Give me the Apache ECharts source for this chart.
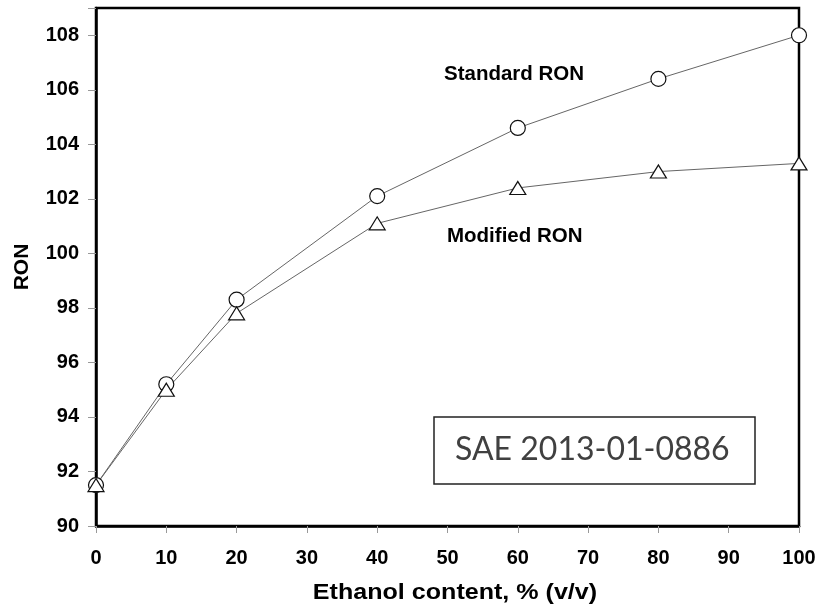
<!DOCTYPE html>
<html>
<head>
<meta charset="utf-8">
<script src="https://cdn.jsdelivr.net/npm/echarts@6/dist/echarts.min.js"></script>
<style>
  html, body { margin: 0; padding: 0; background: #fff; }
  #chart { width: 819px; height: 607px; }
</style>
</head>
<body>
<div id="chart"></div>
<script>
// Ethanol content (% v/v) and measured octane numbers
const ethanolContent = [0, 10, 20, 40, 60, 80, 100];
const standardRON = [91.5, 95.2, 98.3, 102.1, 104.6, 106.4, 108.0];
const modifiedRON = [91.5, 95.0, 97.8, 101.1, 102.4, 103.0, 103.3];

const xTicks = [0, 10, 20, 30, 40, 50, 60, 70, 80, 90, 100];
const yTicks = [90, 92, 94, 96, 98, 100, 102, 104, 106, 108];

const pairs = (xs, ys) => xs.map((x, i) => [x, ys[i]]);

const chart = echarts.init(document.getElementById('chart'), null, { renderer: 'canvas' });

const SANS = 'Liberation Sans, Arial, sans-serif';
const tickFont = { fontFamily: SANS, fontWeight: 'bold', fontSize: 20, color: '#000' };
const nameFont = { fontFamily: SANS, fontWeight: 'bold', fontSize: 21, color: '#000' };

chart.setOption({
  animation: false,
  backgroundColor: '#fff',
  grid: {
    left: 96, right: 20, top: 8, bottom: 81,
    containLabel: false, outerBoundsMode: 'none',
    show: true, borderColor: '#000', borderWidth: 2.5, backgroundColor: 'transparent'
  },
  xAxis: {
    type: 'value',
    min: xTicks[0],
    max: xTicks[xTicks.length - 1],
    interval: 10,
    axisLine: { show: true, lineStyle: { color: '#000', width: 2.5 } },
    axisTick: { show: true, length: 7, lineStyle: { color: '#999', width: 1 } },
    axisLabel: Object.assign({ margin: 22 }, tickFont),
    splitLine: { show: false }
  },
  yAxis: {
    type: 'value',
    min: yTicks[0],
    max: 109,
    interval: 2,
    name: 'RON',
    nameLocation: 'middle',
    nameGap: 63,
    nameTextStyle: nameFont,
    axisLine: { show: true, lineStyle: { color: '#000', width: 2.5 } },
    axisTick: { show: true, length: 8, lineStyle: { color: '#999', width: 1 } },
    axisLabel: Object.assign({
      margin: 17,
      formatter: v => (yTicks.indexOf(v) >= 0 ? String(v) : '')
    }, tickFont),
    splitLine: { show: false }
  },
  series: [
    {
      name: 'Standard RON',
      type: 'line',
      data: pairs(ethanolContent, standardRON),
      symbol: 'circle',
      symbolSize: 15,
      clip: false,
      lineStyle: { color: '#666', width: 1 },
      itemStyle: { color: '#fff', borderColor: '#111', borderWidth: 1.2 },
      z: 3
    },
    {
      name: 'Modified RON',
      type: 'line',
      data: pairs(ethanolContent, modifiedRON),
      symbol: 'triangle',
      symbolSize: [16, 13],
      clip: false,
      lineStyle: { color: '#666', width: 1 },
      itemStyle: { color: '#fff', borderColor: '#111', borderWidth: 1.2 },
      z: 3
    }
  ],
  graphic: [
    {
      // x-axis title, slightly widened
      type: 'text', x: 455, y: 593, scaleX: 1.14, z: 10,
      style: {
        text: 'Ethanol content, % (v/v)', fontFamily: SANS, fontWeight: 'bold', fontSize: 22, fill: '#000',
        align: 'center', verticalAlign: 'middle'
      }
    },
    {
      type: 'text', left: 444, top: 64, z: 10,
      style: { text: 'Standard RON', fontFamily: SANS, fontWeight: 'bold', fontSize: 20.5, fill: '#000' }
    },
    {
      type: 'text', left: 447, top: 226, z: 10,
      style: { text: 'Modified RON', fontFamily: SANS, fontWeight: 'bold', fontSize: 20.5, fill: '#000' }
    },
    {
      type: 'rect', z: 10,
      shape: { x: 434, y: 417, width: 321, height: 67 },
      style: { fill: '#fff', stroke: '#222', lineWidth: 1.5 }
    },
    {
      type: 'text', z: 11, x: 455, y: 450,
      style: {
        text: 'SAE 2013-01-0886', fontFamily: 'Lato, Open Sans, sans-serif', fontSize: 32, fill: '#404040',
        align: 'left', verticalAlign: 'middle'
      }
    }
  ]
});
</script>
</body>
</html>
